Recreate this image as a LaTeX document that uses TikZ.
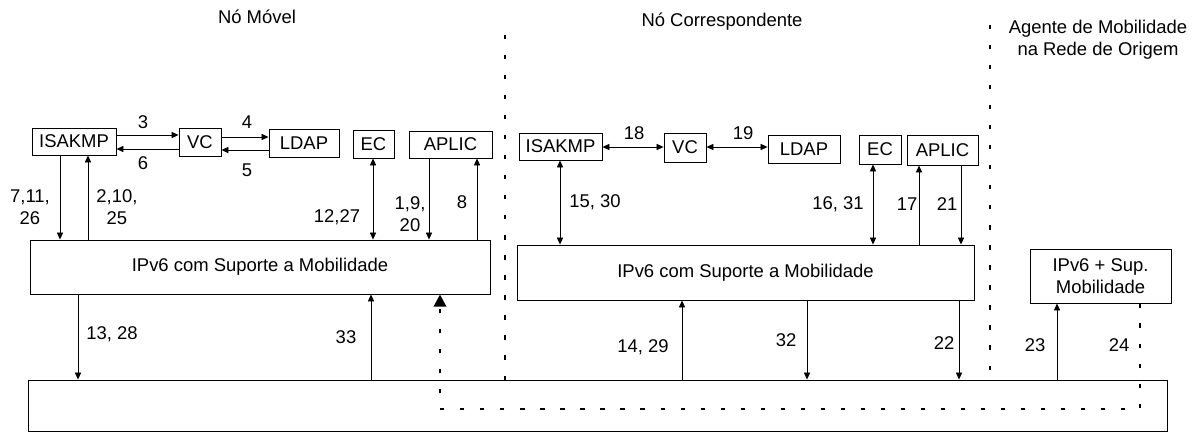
\documentclass[tikz,border=0pt]{standalone}
\usepackage{fontspec}
\setmainfont{Liberation Sans}
\usetikzlibrary{arrows.meta}

\tikzset{
  caixa/.style 2 args={draw, line width=0.5pt, inner sep=1pt, align=center,
    minimum width=#1, minimum height=#2},
  num/.style={inner sep=0pt, align=center},
  seta/.style={-{Triangle[length=4pt,width=3.5pt]}},
  setb/.style={{Triangle[length=4pt,width=3.5pt]}-{Triangle[length=4pt,width=3.5pt]}},
  pontos/.style={line width=1.6pt, dash pattern=on 2.4pt off 9pt},
}

\begin{document}
\begin{tikzpicture}[x=0.02cm, y=-0.02cm, line width=0.5pt, font=\fontsize{10.5}{12.6}\selectfont]
\useasboundingbox (0,0) rectangle (1199,437);
% titulos
\node (tMovel) at (257,17) {Nó Móvel};
\node (tCorr) at (722,22) {Nó Correspondente};
\node[align=center] (tAgente) at (1098,40) {Agente de Mobilidade\\na Rede de Origem};

% Nó Móvel
\node[caixa={1.68cm}{0.54cm}] (isakmpM) at (74,141.5) {ISAKMP};
\node[caixa={0.84cm}{0.56cm}] (vcM) at (200,142) {VC};
\node[caixa={1.40cm}{0.56cm}] (ldapM) at (304,143) {LDAP};
\node[caixa={0.82cm}{0.56cm}] (ecM) at (373.5,144) {EC};
\node[caixa={1.66cm}{0.54cm}] (aplicM) at (450.5,144.5) {APLIC};
\node[caixa={9.2cm}{1.08cm}] (ipM) at (260,267) {IPv6 com Suporte a Mobilidade};
% Nó Correspondente
\node[caixa={1.66cm}{0.54cm}] (isakmpC) at (560.5,146.5) {ISAKMP};
\node[caixa={0.84cm}{0.58cm}] (vcC) at (685,147.5) {VC};
\node[caixa={1.44cm}{0.56cm}] (ldapC) at (804,149) {LDAP};
\node[caixa={0.84cm}{0.58cm}] (ecC) at (880,149.5) {EC};
\node[caixa={1.42cm}{0.60cm}] (aplicC) at (942.5,150) {APLIC};
\node[caixa={9.14cm}{1.10cm}] (ipC) at (745.5,272.5) {IPv6 com Suporte a Mobilidade};
% Agente de Mobilidade
\node[caixa={2.82cm}{1.08cm}] (ipA) at (1100.5,276) {IPv6 + Sup.\\Mobilidade};
% rede
\node[caixa={22.8cm}{1.02cm}] (rede) at (598,405.5) {};

% setas horizontais
\draw[seta] (isakmpM.east |- 0,135) -- (vcM.west |- 0,135);
\draw[seta] (vcM.west |- 0,149) -- (isakmpM.east |- 0,149);
\draw[seta] (vcM.east |- 0,137) -- (ldapM.west |- 0,137);
\draw[seta] (ldapM.west |- 0,150) -- (vcM.east |- 0,150);
\draw[setb] (isakmpC.east |- 0,147) -- (vcC.west |- 0,147);
\draw[setb] (vcC.east |- 0,147) -- (ldapC.west |- 0,147);

% setas verticais
\foreach \xx/\alto/\baixo in {60/isakmpM/ipM, 429/aplicM/ipM, 961/aplicC/ipC, 78/ipM/rede, 807/ipC/rede, 959/ipC/rede}
  \draw[seta] (\alto.south -| \xx,0) -- (\baixo.north -| \xx,0);
\foreach \xx/\alto/\baixo in {88/isakmpM/ipM, 477/aplicM/ipM, 919/aplicC/ipC, 371/ipM/rede, 682/ipC/rede, 1057/ipA/rede}
  \draw[seta] (\baixo.north -| \xx,0) -- (\alto.south -| \xx,0);
\foreach \xx/\alto/\baixo in {373/ecM/ipM, 560/isakmpC/ipC, 873/ecC/ipC}
  \draw[setb] (\alto.south -| \xx,0) -- (\baixo.north -| \xx,0);

% rotulos
\node[num] (r3) at (143,122) {3};
\node[num] (r6) at (143,163) {6};
\node[num] (r4) at (247,122) {4};
\node[num] (r5) at (247,170) {5};
\node[num] (r7) at (30,207) {7,11,\\26};
\node[num] (r2) at (117,207) {2,10,\\25};
\node[num] (r12) at (337,217) {12,27};
\node[num] (r1) at (410,214) {1,9,\\20};
\node[num] (r8) at (462,202) {8};
\node[num] (r13) at (112,334) {13, 28};
\node[num] (r33) at (346,337) {33};
\node[num] (r18) at (634,133) {18};
\node[num] (r19) at (743,133) {19};
\node[num] (r15) at (595,202) {15, 30};
\node[num] (r16) at (838,204) {16, 31};
\node[num] (r17) at (907,204) {17};
\node[num] (r21) at (947,204) {21};
\node[num] (r14) at (643,347) {14, 29};
\node[num] (r32) at (786,340) {32};
\node[num] (r22) at (944,343) {22};
\node[num] (r23) at (1035,345) {23};
\node[num] (r24) at (1119,345) {24};

% linhas pontilhadas
\draw[pontos] (505,35) -- (505,393);
\draw[pontos] (990,25) -- (990,385);
\draw[pontos, -{Triangle[length=7pt,width=7pt]}] (ipA.south -| 1140,0) -- (1140,409) -- (440,409) -- (ipM.south -| 440,0);
\end{tikzpicture}
\end{document}
